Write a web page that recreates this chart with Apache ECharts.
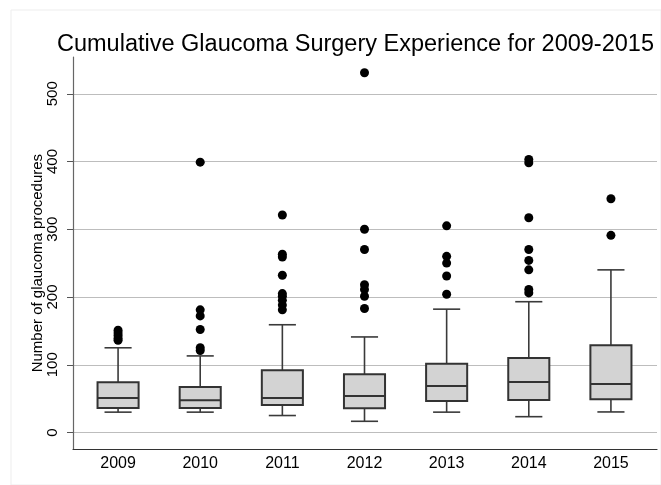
<!DOCTYPE html>
<html>
<head>
<meta charset="utf-8">
<script src="https://cdn.jsdelivr.net/npm/echarts@6/dist/echarts.min.js"></script>
<style>
html,body{margin:0;padding:0;background:#fff;}
#chart{width:661px;height:485px;}
</style>
</head>
<body>
<div id="chart"></div>
<script>
// ---- Data ----
var categories = ['2009', '2010', '2011', '2012', '2013', '2014', '2015'];
var lowWhisker  = [30, 30, 25, 16.5, 30, 23.3, 30.3];
var q1          = [36, 36, 40.6, 35.7, 46.5, 48, 49];
var median      = [51, 47.5, 51, 54, 68.6, 74.5, 71.6];
var q3          = [74, 67, 92, 86, 101.6, 110, 128.7];
var highWhisker = [125, 113, 159, 141, 182, 193, 240];
var outliers2009 = [136, 139, 143, 147, 151];
var outliers2010 = [121, 125, 152, 172, 181, 399];
var outliers2011 = [181, 188, 195, 201, 205, 232, 259, 263, 321];
var outliers2012 = [183, 201, 211, 218, 270, 300, 531];
var outliers2013 = [204, 231, 250, 260, 305];
var outliers2014 = [206, 211, 240, 254, 270, 317, 398, 403];
var outliers2015 = [291, 345];
var yTicks = [0, 100, 200, 300, 400, 500];

var outlierLists = [outliers2009, outliers2010, outliers2011, outliers2012, outliers2013, outliers2014, outliers2015];
var boxData = categories.map(function (c, i) {
  return [i, lowWhisker[i], q1[i], median[i], q3[i], highWhisker[i]];
});
var outlierData = [];
outlierLists.forEach(function (list, i) {
  list.forEach(function (v) { outlierData.push([i, v]); });
});

var FONT = 'Liberation Sans, Arial, Helvetica, sans-serif';
var yMinFull = -24.4, yMaxFull = 554.2;

function renderBox(params, api) {
  var x = api.value(0);
  var lo = api.coord([x, api.value(1)]);
  var b1 = api.coord([x, api.value(2)]);
  var md = api.coord([x, api.value(3)]);
  var b3 = api.coord([x, api.value(4)]);
  var hi = api.coord([x, api.value(5)]);
  var band = api.size([1, 0])[0];
  var bw = band * 0.5, cw = band * 0.33;
  var cx = lo[0];
  var ls = { stroke: '#3a3a3a', lineWidth: 1.6 };
  return {
    type: 'group',
    children: [
      { type: 'line', shape: { x1: cx, y1: hi[1], x2: cx, y2: b3[1] }, style: ls },
      { type: 'line', shape: { x1: cx, y1: lo[1], x2: cx, y2: b1[1] }, style: ls },
      { type: 'line', shape: { x1: cx - cw / 2, y1: hi[1], x2: cx + cw / 2, y2: hi[1] }, style: ls },
      { type: 'line', shape: { x1: cx - cw / 2, y1: lo[1], x2: cx + cw / 2, y2: lo[1] }, style: ls },
      { type: 'rect', shape: { x: cx - bw / 2, y: b3[1], width: bw, height: b1[1] - b3[1] },
        style: { fill: '#d3d3d3', stroke: '#333333', lineWidth: 2 } },
      { type: 'line', shape: { x1: cx - bw / 2, y1: md[1], x2: cx + bw / 2, y2: md[1] },
        style: { stroke: '#333333', lineWidth: 2 } }
    ]
  };
}

var chart = echarts.init(document.getElementById('chart'), null, { renderer: 'canvas' });
chart.setOption({
  backgroundColor: '#ffffff',
  animation: false,
  title: {
    text: 'Cumulative Glaucoma Surgery Experience for 2009-2015',
    left: 52, top: 28,
    textStyle: { fontFamily: FONT, fontSize: 23.5, fontWeight: 'normal', color: '#000' }
  },
  grid: [
    { left: 73, right: 4, top: 93.75, bottom: 52.5 },
    { left: 73, right: 4, top: 57, bottom: 36 },
    { left: 77, width: 575, top: 57, bottom: 36 },
    { left: 11, top: 10, right: -2, bottom: -2, show: true, borderColor: '#ededed', borderWidth: 1, backgroundColor: 'transparent' }
  ],
  xAxis: [
    { gridIndex: 0, type: 'value', min: 0, max: 1, show: false },
    { gridIndex: 1, type: 'value', min: 0, max: 1, axisLine: { show: true, onZero: false, lineStyle: { color: '#333', width: 1.2 } },
      axisTick: { show: false }, axisLabel: { show: false }, splitLine: { show: false } },
    { gridIndex: 2, type: 'category', data: categories, boundaryGap: true,
      axisLine: { show: false }, axisTick: { show: false }, splitLine: { show: false },
      axisLabel: { margin: 7, fontFamily: FONT, fontSize: 16, color: '#000' } },
    { gridIndex: 3, type: 'value', show: false }
  ],
  yAxis: [
    { gridIndex: 0, type: 'value', min: 0, max: 500, interval: 100,
      name: 'Number of glaucoma procedures', nameLocation: 'middle', nameGap: 28, nameMoveOverlap: false,
      nameTextStyle: { fontFamily: FONT, fontSize: 15, color: '#000' },
      axisLine: { show: false },
      axisTick: { show: true, length: 6, inside: false, lineStyle: { color: '#555' } },
      axisLabel: { rotate: 90, margin: 13, fontFamily: FONT, fontSize: 15, color: '#000',
        formatter: function (v) { return yTicks.indexOf(v) >= 0 ? String(v) : ''; } },
      splitLine: { show: true, lineStyle: { color: '#bdbdbd', width: 1 } } },
    { gridIndex: 1, type: 'value', min: yMinFull, max: yMaxFull,
      axisLine: { show: true, onZero: false, lineStyle: { color: '#666', width: 1.2 } },
      axisTick: { show: false }, axisLabel: { show: false }, splitLine: { show: false } },
    { gridIndex: 2, type: 'value', min: yMinFull, max: yMaxFull, show: false, splitLine: { show: false } },
    { gridIndex: 3, type: 'value', show: false }
  ],
  series: [
    { type: 'custom', xAxisIndex: 2, yAxisIndex: 2, renderItem: renderBox,
      encode: { x: 0, y: [1, 2, 3, 4, 5] }, data: boxData, silent: true, z: 3 },
    { type: 'scatter', xAxisIndex: 2, yAxisIndex: 2, data: outlierData,
      symbol: 'circle', symbolSize: 9, itemStyle: { color: '#000', opacity: 1 }, silent: true, z: 4 }
  ]
});
</script>
</body>
</html>
